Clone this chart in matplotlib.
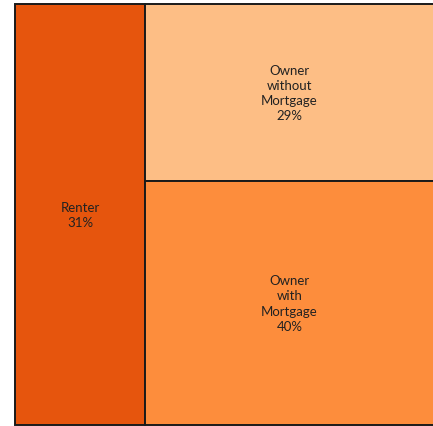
import matplotlib
matplotlib.use("Agg")
import matplotlib.pyplot as plt
from matplotlib.patches import Rectangle

categories = ["Renter", "Owner\nwithout\nMortgage", "Owner\nwith\nMortgage"]
values = [31, 29, 40]
colors = ["#E6550D", "#FDBE85", "#FD8D3C"]

plt.rcParams['font.family'] = ['Lato', 'DejaVu Sans']

W, H = 433, 427
fig = plt.figure(figsize=(W / 100, H / 100), dpi=100)
ax = fig.add_axes([15 / W, 1 / H, (W - 14) / W, 421 / H])
ax.set_xlim(0, 100)
ax.set_ylim(0, 100)
ax.axis("off")

total = sum(values)
rw = values[0] / total * 100
rects = [(0, 0, rw, 100)]
owners = values[1] + values[2]
h_without = values[1] / owners * 100
rects.append((rw, 100 - h_without, 100 - rw, h_without))
rects.append((rw, 0, 100 - rw, 100 - h_without))

for (x, y, w, h), c, lab, v in zip(rects, colors, categories, values):
    ax.add_patch(Rectangle((x, y), w, h, facecolor=c, edgecolor="#1a1a1a", linewidth=1.4, clip_on=False))
    ax.text(x + w / 2, y + h / 2, f"{lab}\n{v}%", ha="center", va="center",
            fontsize=9.5, color="#222222", linespacing=1.32)

fig.savefig("out.png", dpi=100)
